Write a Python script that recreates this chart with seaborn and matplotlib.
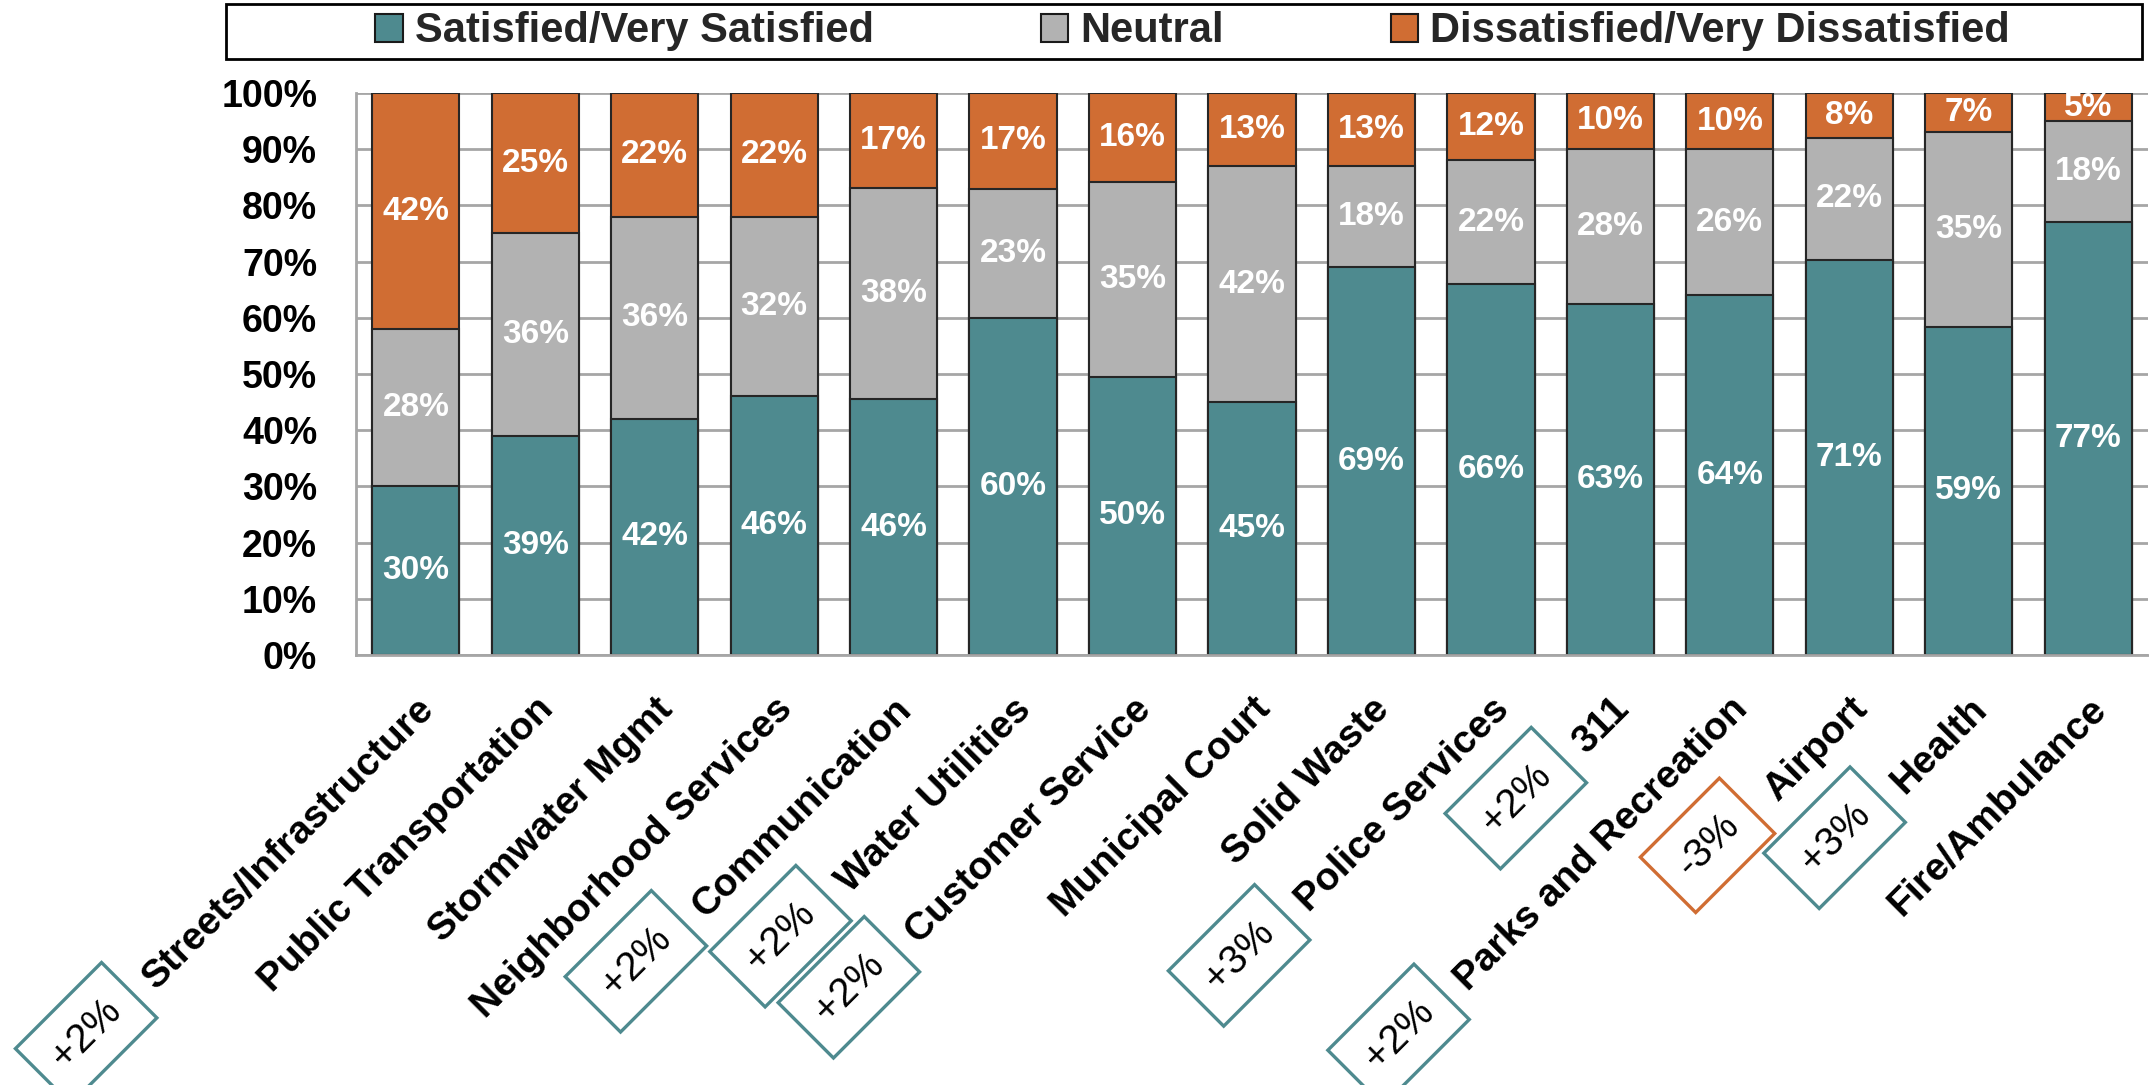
import matplotlib
matplotlib.use("Agg")
import matplotlib.pyplot as plt
from matplotlib.patches import Patch, Rectangle
from matplotlib.transforms import IdentityTransform
import numpy as np
import pandas as pd
import seaborn as sns

# survey results by service (percent of respondents)
services = ["Streets/Infrastructure", "Public Transportation", "Stormwater Mgmt",
            "Neighborhood Services", "Communication", "Water Utilities",
            "Customer Service", "Municipal Court", "Solid Waste", "Police Services",
            "311", "Parks and Recreation", "Airport", "Health", "Fire/Ambulance"]
satisfied = [30, 39, 42, 46, 46, 60, 50, 45, 69, 66, 63, 64, 71, 59, 77]
neutral = [28, 36, 36, 32, 38, 23, 35, 42, 18, 22, 28, 26, 22, 35, 18]
dissatisfied = [42, 25, 22, 22, 17, 17, 16, 13, 13, 12, 10, 10, 8, 7, 5]
# change in satisfaction since last survey ("" = no callout)
change = ["+2%", "", "", "", "+2%", "+2%", "+2%", "", "",
          "+3%", "+2%", "+2%", "-3%", "+3%", ""]

legend_labels = ["Satisfied/Very Satisfied", "Neutral", "Dissatisfied/Very Dissatisfied"]

TEAL = "#4E8A8F"
GRAY = "#B2B2B2"
ORANGE = "#D06D33"
GRID = "#A6A6A6"

df = pd.DataFrame({"service": services, "satisfied": satisfied,
                   "neutral": neutral, "dissatisfied": dissatisfied})
total = df[["satisfied", "neutral", "dissatisfied"]].sum(axis=1)
df["sat_top"] = df["satisfied"] / total * 100
df["neu_top"] = (df["satisfied"] + df["neutral"]) / total * 100
df["all_top"] = 100.0

sns.set_style("white")
plt.rcParams["font.family"] = ["Liberation Sans", "DejaVu Sans"]

fig = plt.figure(figsize=(21.49, 10.85), dpi=100)
ax = fig.add_axes([0.1657, 0.3963, 0.8338, 0.518])

# stacked bars: draw cumulative totals, tallest first
for col, color in [("all_top", ORANGE), ("neu_top", GRAY), ("sat_top", TEAL)]:
    sns.barplot(data=df, x="service", y=col, color=color, saturation=1,
                width=0.73, edgecolor="#262626", linewidth=1.5, ax=ax, zorder=2)

# value labels in the middle of each segment
for i in range(len(df)):
    lows = [0, df["sat_top"][i], df["neu_top"][i]]
    highs = [df["sat_top"][i], df["neu_top"][i], 100]
    vals = [satisfied[i], neutral[i], dissatisfied[i]]
    for lo, hi, v in zip(lows, highs, vals):
        ax.text(i, (lo + hi) / 2, f"{v}%", ha="center", va="center",
                color="white", fontsize=24, fontweight="bold", zorder=5)

ax.set_ylim(0, 100)
ax.set_xlim(-0.5, len(df) - 0.5)
ax.set_yticks(np.arange(0, 101, 10))
ax.set_yticklabels([f"{v}%" for v in range(0, 101, 10)], fontsize=27, fontweight="bold")
ax.set_xticks(range(len(df)))
ax.set_xticklabels(services, rotation=45, ha="right", rotation_mode="anchor",
                   fontsize=28, fontweight="bold")
ax.set_xticks(np.arange(-0.5, len(df), 1), minor=True)
ax.set_xlabel("")
ax.set_ylabel("")

ax.yaxis.grid(True, color=GRID, linewidth=2)
ax.set_axisbelow(True)
for s in ["top", "right"]:
    ax.spines[s].set_visible(False)
for s in ["left", "bottom"]:
    ax.spines[s].set_color(GRID)
    ax.spines[s].set_linewidth(2)

ax.tick_params(axis="y", length=10, width=2, color=GRID, pad=18, labelcolor="black")
ax.tick_params(axis="x", which="major", length=0, pad=26, labelcolor="black")
ax.tick_params(axis="x", which="minor", length=9.5, width=2, color=GRID)

# legend across the top
handles = [Patch(facecolor=c, edgecolor="#1a1a1a", linewidth=1.5) for c in [TEAL, GRAY, ORANGE]]
fig.legend(handles, legend_labels, loc="center", bbox_to_anchor=(0.555, 0.971), ncol=3,
           frameon=False, prop={"size": 30, "weight": "bold"}, handlelength=0.65,
           handleheight=0.65, handletextpad=0.3, columnspacing=4.0)
fig.patches.append(Rectangle((0.1052, 0.9456), 0.8916, 0.0507, transform=fig.transFigure,
                             fill=False, edgecolor="black", linewidth=2))

# change callouts placed just before the rotated category labels
fig.canvas.draw()
renderer = fig.canvas.get_renderer()
for lab, ch in zip(ax.get_xticklabels(), change):
    if not ch:
        continue
    bb = lab.get_window_extent(renderer)
    ec = ORANGE if ch.startswith("-") else TEAL
    fig.text(bb.x0 - 50, bb.y0 - 37, ch, transform=IdentityTransform(),
             rotation=45, rotation_mode="anchor", ha="center", va="center",
             fontsize=29, color="black",
             bbox=dict(boxstyle="square,pad=0.5", facecolor="white", edgecolor=ec, linewidth=2.4))

fig.savefig("out.png", dpi=100)
